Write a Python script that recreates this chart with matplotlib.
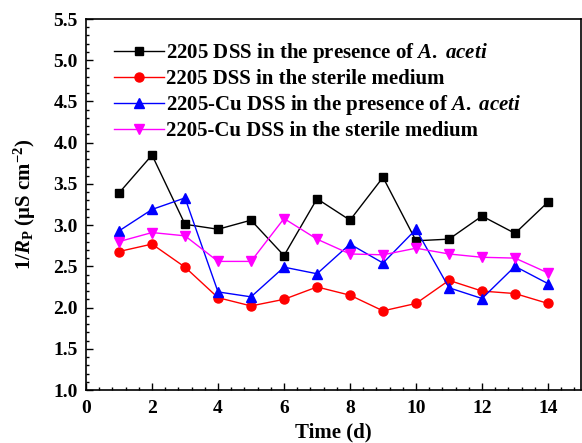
import numpy as np
import matplotlib
matplotlib.use('Agg')
import matplotlib.pyplot as plt
from matplotlib.ticker import MultipleLocator, AutoMinorLocator

plt.rcParams['font.family'] = 'Liberation Serif'
plt.rcParams['font.weight'] = 'bold'
plt.rcParams['mathtext.fontset'] = 'custom'
plt.rcParams['mathtext.rm'] = 'Liberation Serif:bold'
plt.rcParams['mathtext.it'] = 'Liberation Serif:italic:bold'
plt.rcParams['mathtext.bf'] = 'Liberation Serif:bold'

# data
days = [1, 2, 3, 4, 5, 6, 7, 8, 9, 10, 11, 12, 13, 14]
dss_aceti = [3.39, 3.85, 3.01, 2.95, 3.06, 2.63, 3.32, 3.06, 3.58, 2.81, 2.83, 3.11, 2.90, 3.28]
dss_sterile = [2.68, 2.77, 2.49, 2.12, 2.02, 2.10, 2.25, 2.15, 1.96, 2.05, 2.33, 2.20, 2.17, 2.05]
cu_aceti = [2.93, 3.19, 3.33, 2.19, 2.13, 2.49, 2.41, 2.77, 2.54, 2.95, 2.24, 2.11, 2.50, 2.29]
cu_sterile = [2.80, 2.91, 2.87, 2.56, 2.56, 3.08, 2.83, 2.65, 2.64, 2.72, 2.65, 2.61, 2.60, 2.42]

labels = [r'2205 DSS in the presence of $\mathit{A.}$ $\mathit{aceti}$',
          '2205 DSS in the sterile medium',
          r'2205-Cu DSS in the presence of $\mathit{A.}$ $\mathit{aceti}$',
          '2205-Cu DSS in the sterile medium']

fig = plt.figure(figsize=(5.82, 4.43), dpi=100)
ax = fig.add_axes([0.1478, 0.1196, 0.8505, 0.8375])

lw = 1.0
ax.plot(days, dss_aceti, color='black', marker='s', ms=5.5, lw=lw, label=labels[0])
ax.plot(days, dss_sterile, color='red', marker='o', ms=6.5, lw=lw, label=labels[1])
ax.plot(days, cu_aceti, color='blue', marker='^', ms=7, lw=lw, label=labels[2])
ax.plot(days, cu_sterile, color='magenta', marker='v', ms=7, lw=lw, label=labels[3])

ax.set_xlim(0, 15)
ax.set_ylim(1.0, 5.5)
ax.xaxis.set_major_locator(MultipleLocator(2))
ax.xaxis.set_minor_locator(AutoMinorLocator(5))
ax.yaxis.set_major_locator(MultipleLocator(0.5))
ax.yaxis.set_minor_locator(AutoMinorLocator(5))
ax.yaxis.set_major_formatter(plt.FormatStrFormatter('%.1f'))

ax.tick_params(which='both', direction='in', top=False, right=False, width=1.0)
ax.tick_params(which='major', length=5, labelsize=14)
ax.tick_params(axis='x', which='major', pad=7)
ax.tick_params(axis='y', which='major', pad=6)
ax.tick_params(which='minor', length=2.5)
for s in ax.spines.values():
    s.set_linewidth(1.2)

ax.set_xlabel('Time (d)', fontsize=15, fontweight='bold', labelpad=4)
ax.set_ylabel(r'1/$\mathit{R}_\mathrm{P}$ (μS cm$^{-2}$)', fontsize=15, fontweight='bold', labelpad=11)

ax.legend(loc='upper left', bbox_to_anchor=(0.056, 0.94), frameon=False, fontsize=15,
          handlelength=2.4, handletextpad=0.1, labelspacing=0.19, borderaxespad=0, borderpad=0)

fig.savefig('out.png', dpi=100)
